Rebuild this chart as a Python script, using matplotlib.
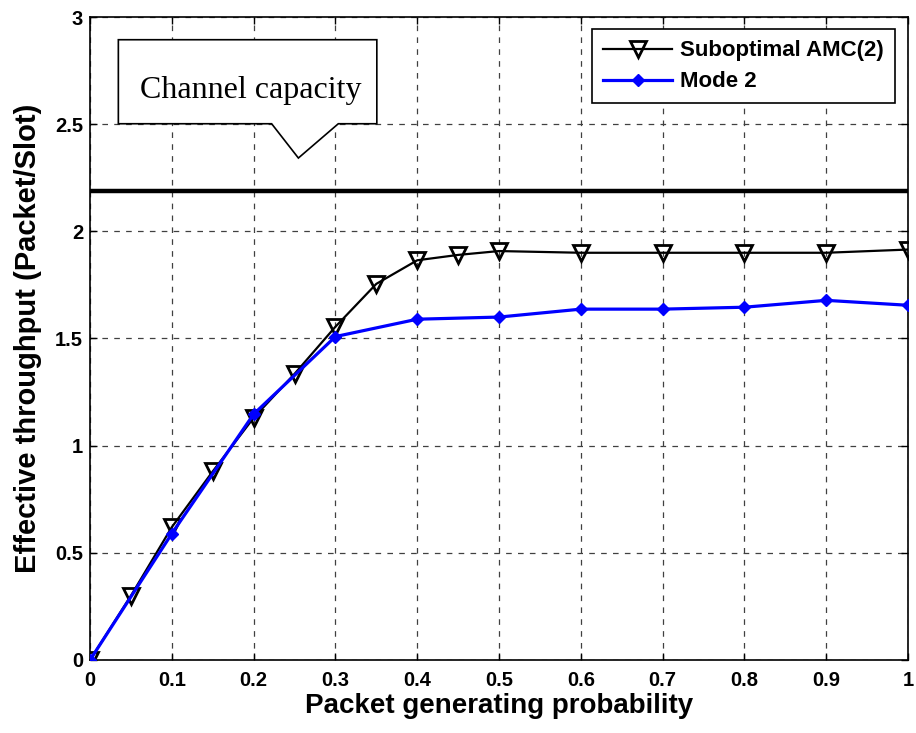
import matplotlib.pyplot as plt
from matplotlib.patches import Polygon

# Datos
x_amc = [0, 0.05, 0.1, 0.15, 0.2, 0.25, 0.3, 0.35, 0.4, 0.45, 0.5, 0.6, 0.7, 0.8, 0.9, 1.0]
y_amc = [0, 0.30, 0.62, 0.88, 1.13, 1.335, 1.555, 1.755, 1.865, 1.89, 1.908, 1.90, 1.90, 1.90, 1.90, 1.915]

x_mode2 = [0, 0.1, 0.2, 0.3, 0.4, 0.5, 0.6, 0.7, 0.8, 0.9, 1.0]
y_mode2 = [0, 0.59, 1.147, 1.509, 1.59, 1.60, 1.637, 1.637, 1.646, 1.678, 1.655]

capacity = 2.19

x_ticks = [0, 0.1, 0.2, 0.3, 0.4, 0.5, 0.6, 0.7, 0.8, 0.9, 1]
x_ticklabels = ['0', '0.1', '0.2', '0.3', '0.4', '0.5', '0.6', '0.7', '0.8', '0.9', '1']
y_ticks = [0, 0.5, 1, 1.5, 2, 2.5, 3]
y_ticklabels = ['0', '0.5', '1', '1.5', '2', '2.5', '3']

# Caixa de anotação (coordenadas de dados)
callout = [(0.0346, 2.502), (0.0346, 2.894), (0.3506, 2.894), (0.3506, 2.502),
           (0.3035, 2.502), (0.2547, 2.342), (0.222, 2.502)]

plt.rcParams['font.family'] = ['Liberation Sans', 'DejaVu Sans']
plt.rcParams['font.weight'] = 'bold'

fig = plt.figure(figsize=(9.16, 7.33), dpi=100)
ax = fig.add_axes([0.0983, 0.0996, 0.8930, 0.8772])

ax.plot([0, 1], [capacity, capacity], color='black', linewidth=3.2, solid_capstyle='butt', zorder=3)
ax.plot(x_amc, y_amc, color='black', linewidth=1.6, marker='v', markersize=12,
        markerfacecolor='none', markeredgecolor='black', markeredgewidth=2,
        label='Suboptimal AMC(2)', zorder=4)
ax.plot(x_mode2, y_mode2, color='blue', linewidth=2.3, marker='D', markersize=6,
        markerfacecolor='blue', markeredgecolor='blue', label='Mode 2', zorder=5)

ax.add_patch(Polygon(callout, closed=True, facecolor='white', edgecolor='black',
                     linewidth=1.2, zorder=6))
ax.text(0.196, 2.624, 'Channel capacity', family='Liberation Serif', fontweight='normal',
        fontsize=23, ha='center', va='baseline', zorder=7)

ax.set_xlim(0, 1)
ax.set_ylim(0, 3)
ax.set_xticks(x_ticks)
ax.set_xticklabels(x_ticklabels)
ax.set_yticks(y_ticks)
ax.set_yticklabels(y_ticklabels)
ax.tick_params(direction='in', length=5, width=1, labelsize=14.5, top=True, right=True)
ax.tick_params(axis='x', pad=8)
ax.tick_params(axis='y', pad=5)
ax.grid(True, color='0.25', linestyle=(0, (4.5, 5)), linewidth=0.9)
for s in ax.spines.values():
    s.set_linewidth(1.2)

ax.set_xlabel('Packet generating probability', fontsize=20, fontweight='bold', labelpad=2)
ax.set_ylabel('Effective throughput (Packet/Slot)', fontsize=21, fontweight='bold', labelpad=9)

leg = ax.legend(loc='upper right', bbox_to_anchor=(0.984, 0.981), borderaxespad=0,
                fancybox=False, framealpha=1, edgecolor='black', handlelength=3.1,
                handletextpad=0.35, borderpad=0.5, labelspacing=0.45,
                prop={'weight': 'bold', 'size': 16})
leg.get_frame().set_linewidth(1.2)
leg.set_zorder(10)

fig.savefig('out.png', dpi=100)
